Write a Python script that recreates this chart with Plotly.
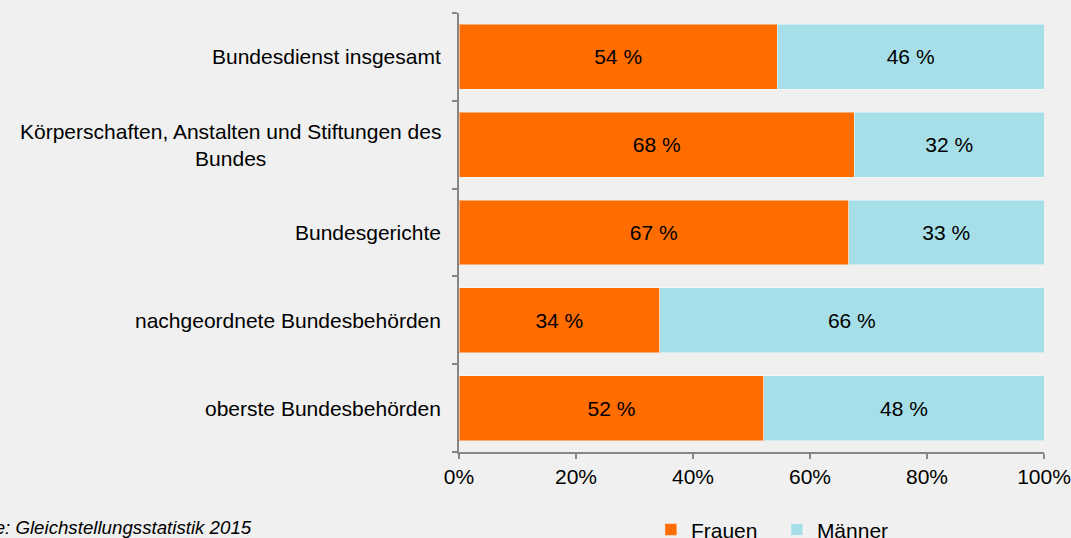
import plotly.graph_objects as go

categories = [
    "oberste Bundesbehörden",
    "nachgeordnete Bundesbehörden",
    "Bundesgerichte",
    "Körperschaften, Anstalten und Stiftungen des<br>Bundes",
    "Bundesdienst insgesamt",
]
frauen = [52.1, 34.3, 66.6, 67.6, 54.4]
maenner = [47.9, 65.7, 33.4, 32.4, 45.6]
x_ticks = [0, 20, 40, 60, 80, 100]
x_ticklabels = ["0%", "20%", "40%", "60%", "80%", "100%"]
source = "<i>Quelle: Gleichstellungsstatistik 2015</i>"

FONT = "Liberation Sans, Arial, sans-serif"
ORANGE = "#ff6c00"
BLUE = "#a7dfe9"
AXIS = "#868686"

fig = go.Figure()
fig.add_trace(go.Bar(
    y=categories, x=frauen, name="Frauen", orientation="h",
    marker=dict(color=ORANGE, line=dict(color="rgba(255,255,255,0.45)", width=1)),
    texttemplate="%{x:.0f} %", textposition="inside", insidetextanchor="middle",
    textfont=dict(family=FONT, size=21, color="black"),
))
fig.add_trace(go.Bar(
    y=categories, x=maenner, name="Männer", orientation="h",
    marker=dict(color=BLUE, line=dict(color="rgba(255,255,255,0.45)", width=1)),
    texttemplate="%{x:.0f} %", textposition="inside", insidetextanchor="middle",
    textfont=dict(family=FONT, size=21, color="black"),
))

annotations = []
for c in categories:
    annotations.append(dict(
        x=0, xref="paper", y=c, yref="y", text=c, showarrow=False,
        xanchor="right", yanchor="middle", align="center", xshift=-16,
        font=dict(family=FONT, size=21, color="black"),
    ))
annotations.append(dict(
    x=-0.3497, xref="paper", y=-0.1715, yref="paper", text=source, showarrow=False,
    xanchor="right", yanchor="middle", font=dict(family=FONT, size=18.7, color="black"),
))

fig.update_layout(
    width=1071, height=538, autosize=False,
    barmode="stack", bargap=0.26,
    paper_bgcolor="#f0f0f0", plot_bgcolor="#f0f0f0",
    margin=dict(l=459, r=27, t=13, b=86, pad=0, autoexpand=False),
    font=dict(family=FONT, size=21, color="black"),
    showlegend=True,
    legend=dict(orientation="h", x=0.328, xanchor="left", y=-0.1305, yanchor="top",
                traceorder="normal",
                font=dict(family=FONT, size=21, color="black"),
                bgcolor="rgba(0,0,0,0)", entrywidth=81, entrywidthmode="pixels"),
    xaxis=dict(range=[0, 100], tickvals=x_ticks, ticktext=x_ticklabels,
               ticks="outside", ticklen=5, tickcolor=AXIS, tickwidth=1.5,
               showline=True, linecolor=AXIS, linewidth=1.5,
               showgrid=False, zeroline=False, automargin=False,
               tickfont=dict(family=FONT, size=21, color="black")),
    yaxis=dict(type="category", tickson="boundaries", ticks="outside", ticklen=5,
               tickcolor=AXIS, tickwidth=1.5, showline=True, linecolor=AXIS, linewidth=1.5,
               showticklabels=False, showgrid=False, zeroline=False, automargin=False),
    annotations=annotations,
)

fig.write_html(
    "out.html",
    config={"responsive": False, "displayModeBar": False},
    post_script=(
        "document.body.style.margin='0';document.body.style.overflow='hidden';"
        "var gd=document.getElementById('{plot_id}');"
        "Plotly.relayout(gd,{width:1071,height:538});"
    ),
)
